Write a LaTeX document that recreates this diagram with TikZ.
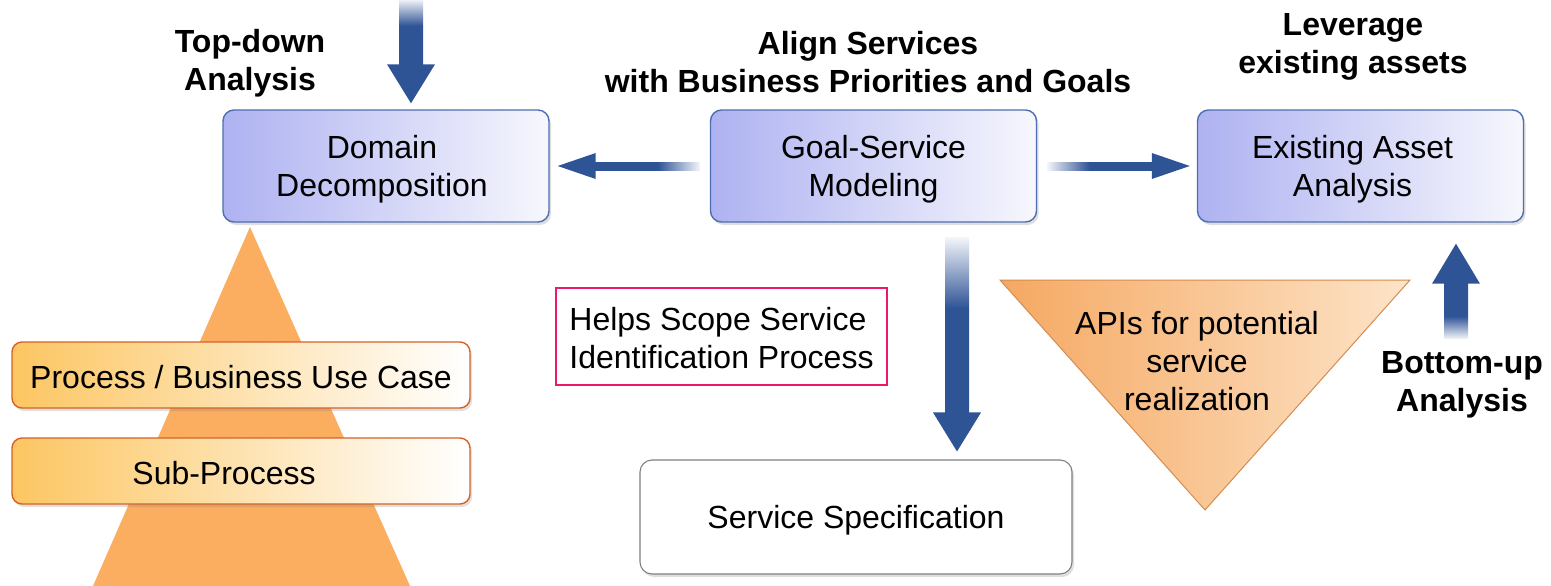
\documentclass[tikz,border=0pt]{standalone}
\usepackage{fontspec}
\setmainfont{Liberation Sans}
\usetikzlibrary{shadows,calc}

\definecolor{arrowblue}{RGB}{47,84,150}
\definecolor{boxleft}{RGB}{174,178,241}
\definecolor{boxright}{RGB}{247,247,253}
\definecolor{boxedge}{RGB}{79,110,178}
\definecolor{procleft}{RGB}{252,198,98}
\definecolor{procedge}{RGB}{214,98,38}
\definecolor{pyramidfill}{RGB}{251,173,96}
\definecolor{apileft}{RGB}{245,168,98}
\definecolor{apiright}{RGB}{253,228,200}
\definecolor{apiedge}{RGB}{214,140,80}
\definecolor{notepink}{RGB}{236,24,106}
\definecolor{specedge}{RGB}{128,128,128}

% shaft colour: faint at the tail, solid towards the head
\pgfdeclarehorizontalshading{tailfade}{100bp}{color(0bp)=(arrowblue!6); color(25bp)=(arrowblue!6); color(45bp)=(arrowblue); color(100bp)=(arrowblue)}

% invisible strut that sets the first line a little lower in its box
\newcommand\firststrut[1]{\rule{0pt}{#1pt}}

\tikzset{
  softshadow/.style={drop shadow={opacity=0.25, shadow xshift=2pt, shadow yshift=-3pt}},
  bluebox/.style={draw=boxedge, line width=1.4pt, rounded corners=11pt,
    left color=boxleft, right color=boxright, minimum width=326pt,
    minimum height=112pt, align=center, inner sep=0pt, softshadow},
  procbox/.style={draw=procedge, line width=1.4pt, rounded corners=10pt,
    left color=procleft, right color=white, minimum width=458pt,
    minimum height=66pt, inner sep=0pt, softshadow},
  specbox/.style={draw=specedge, line width=1.1pt, rounded corners=12pt,
    fill=white, minimum width=432pt, minimum height=114pt, inner sep=0pt, softshadow},
  notebox/.style={draw=notepink, line width=1.6pt, fill=white,
    minimum width=331pt, minimum height=97pt, align=left, inner sep=0pt},
  heading/.style={font=\fontsize{32}{38}\selectfont\bfseries, align=center, inner sep=0pt},
  plain/.style={align=center, inner sep=0pt},
  shaft/.style={shading=tailfade},
  head/.style={fill=arrowblue},
}

\begin{document}
\begin{tikzpicture}[x=1pt,y=-1pt,font=\fontsize{32}{38}\selectfont]
\useasboundingbox (0,0) rectangle (1551,586);
\fill[white] (0,0) rectangle (1551,586);

% main modelling boxes
\node[bluebox] (domain) at (386,166) {\firststrut{29}\hspace*{-8pt}Domain\\\hspace*{-8pt}Decomposition};
\node[bluebox] (goal)   at (873.5,166) {\firststrut{29}Goal-Service\\Modeling};
\node[bluebox] (exist)  at (1360.5,166) {\firststrut{29}\hspace*{-16pt}Existing Asset\\\hspace*{-16pt}Analysis};

% headings
\node[heading] (topdown) at (250,61) {\firststrut{27}Top-down\\Analysis};
\node[heading] (align) at (868,61) {\firststrut{25}Align Services\\with Business Priorities and Goals};
\node[heading] (leverage) at (1353,43) {\firststrut{29}Leverage\\existing assets};
\node[heading] (bottomup) at (1462,382) {\firststrut{27}Bottom-up\\Analysis};

% process pyramid
\fill[pyramidfill] (250,227) -- (410,586) -- (93,586) -- cycle;
\node[procbox] (proc) at (241,375) {\firststrut{27}Process / Business Use Case};
\node[procbox] (sub)  at (241,471) {\firststrut{27}\hspace*{-34pt}Sub-Process};

% scoping note and specification
\node[notebox] (note) at (721.5,336.5) {\firststrut{27}Helps Scope Service\\Identification Process};
\node[specbox] (spec) at (856,517) {\firststrut{29}Service Specification};

% existing APIs (inverted triangle)
\shade[left color=apileft, right color=apiright, draw=apiedge, line width=1pt]
  (1000,280) -- (1410,280) -- (1205,510) -- cycle;
\node[plain] (api) at (1197,361) {APIs for potential\\service\\realization};

% top-down arrow into Domain Decomposition
\coordinate (tdtail) at ($(domain.north)+(25,-110)$);
\shade[shaft, shading angle=-90] ($(tdtail)+(-12,0)$) rectangle ($(domain.north)+(37,-44)$);
\fill[head] ($(domain.north)+(1,-45)$) -- ($(domain.north)+(25,-6)$) -- ($(domain.north)+(49,-45)$) -- cycle;

% Goal-Service Modeling -> Domain Decomposition
\shade[shaft, shading angle=180] ($(goal.west)+(-10,-4)$) rectangle ($(domain.east)+(45,4)$);
\fill[head] ($(domain.east)+(46,-13)$) -- ($(domain.east)+(8,0)$) -- ($(domain.east)+(46,13)$) -- cycle;

% Goal-Service Modeling -> Existing Asset Analysis
\shade[shaft] ($(goal.east)+(10,-4)$) rectangle ($(exist.west)+(-44,4)$);
\fill[head] ($(exist.west)+(-45,-13)$) -- ($(exist.west)+(-7,0)$) -- ($(exist.west)+(-45,13)$) -- cycle;

% Goal-Service Modeling -> Service Specification
\shade[shaft, shading angle=-90] ($(goal.south)+(71.5,15)$) rectangle ($(spec.north)+(113,-46)$);
\fill[head] ($(spec.north)+(77,-47)$) -- ($(spec.north)+(101,-8)$) -- ($(spec.north)+(125,-47)$) -- cycle;

% bottom-up arrow into Existing Asset Analysis
\coordinate (butail) at ($(exist.south)+(95.5,116)$);
\shade[shaft, shading angle=90] ($(butail)+(-12,0)$) rectangle ($(exist.south)+(107.5,60)$);
\fill[head] ($(exist.south)+(71.5,61)$) -- ($(exist.south)+(95.5,21)$) -- ($(exist.south)+(119.5,61)$) -- cycle;
\end{tikzpicture}
\end{document}
